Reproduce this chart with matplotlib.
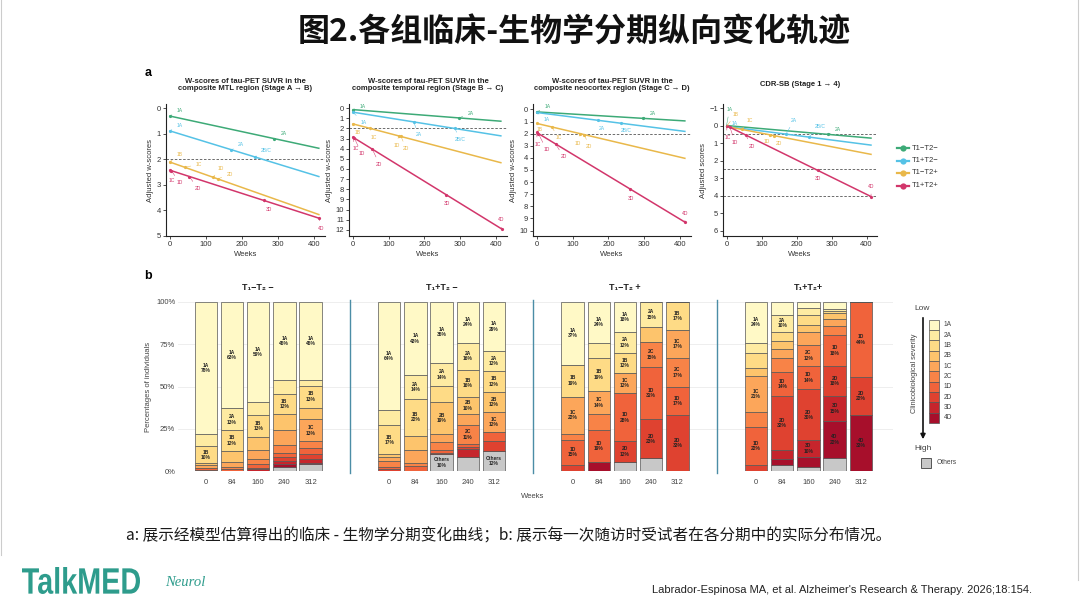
import matplotlib
matplotlib.use('Agg')
import matplotlib.pyplot as plt
from matplotlib.patches import Rectangle, PathPatch
from matplotlib.textpath import TextPath
from matplotlib.font_manager import FontProperties
from matplotlib.transforms import Affine2D
import numpy as np

plt.rcParams['font.family'] = ['Liberation Sans', 'Noto Sans CJK SC', 'DejaVu Sans']

W, H = 1080, 603

# ---------------- data: panel a ----------------
group_names = ['T1−T2−', 'T1+T2−', 'T1−T2+', 'T1+T2+']
group_titles = ['T₁−T₂ −', 'T₁+T₂ −', 'T₁−T₂ +', 'T₁+T₂+']
group_colors = ['#3DAA77', '#55C2E6', '#E9B84A', '#D2366B']

line_weeks = [0, 415]

mtl_start = [0.30, 0.88, 2.10, 2.42]
mtl_end = [1.57, 2.68, 4.17, 4.31]
temporal_start = [0.15, 0.40, 1.55, 2.85]
temporal_end = [1.30, 2.75, 5.40, 11.9]
neocortex_start = [0.20, 0.25, 1.15, 1.90]
neocortex_end = [0.95, 1.82, 4.05, 9.34]
cdr_start = [0.00, 0.05, 0.05, 0.00]
cdr_end = [0.72, 1.12, 1.65, 4.07]

# (group index, week, adjusted score, stage)
mtl_points = [
    (0, 0, 0.30, '1A'), (0, 290, 1.20, '2A'),
    (1, 0, 0.88, '1A'), (1, 170, 1.63, '2A'), (1, 235, 1.90, '2B/C'),
    (2, 0, 2.10, '1B'), (2, 42, 2.31, '1C'), (2, 120, 2.70, '1D'), (2, 133, 2.76, '2D'),
    (3, 0, 2.42, '1C'), (3, 5, 2.44, '1D'), (3, 55, 2.67, '2D'), (3, 260, 3.60, '3D'), (3, 413, 4.30, '4D'),
]
temporal_points = [
    (0, 0, 0.15, '1A'), (0, 295, 0.97, '2A'),
    (1, 0, 0.40, '1A'), (1, 170, 1.36, '2A'), (1, 285, 2.01, '2B/C'),
    (2, 0, 1.55, '1B'), (2, 48, 2.00, '1C'), (2, 128, 2.74, '1D'), (2, 135, 2.80, '2D'),
    (3, 0, 2.85, '1C'), (3, 5, 2.96, '1D'), (3, 55, 4.05, '2D'), (3, 260, 8.52, '3D'), (3, 415, 11.9, '4D'),
]
neocortex_points = [
    (0, 0, 0.20, '1A'), (0, 295, 0.73, '2A'),
    (1, 0, 0.25, '1A'), (1, 170, 0.89, '2A'), (1, 235, 1.14, '2B/C'),
    (2, 0, 1.15, '1B'), (2, 42, 1.44, '1C'), (2, 120, 1.99, '1D'), (2, 133, 2.08, '2D'),
    (3, 0, 1.90, '1C'), (3, 5, 1.99, '1D'), (3, 53, 2.85, '2D'), (3, 260, 6.53, '3D'), (3, 413, 9.30, '4D'),
]
cdr_points = [
    (0, 0, 0.00, '1A'), (0, 290, 0.50, '2A'),
    (1, 0, 0.05, '1A'), (1, 170, 0.49, '2A'), (1, 235, 0.66, '2B/C'),
    (2, 0, 0.05, '1B'), (2, 44, 0.22, '1C'), (2, 125, 0.53, '1D'), (2, 135, 0.57, '2D'),
    (3, 0, 0.00, '1C'), (3, 10, 0.10, '1D'), (3, 55, 0.54, '2D'), (3, 260, 2.55, '3D'), (3, 413, 4.05, '4D'),
]

mtl_ticks = [0, 1, 2, 3, 4, 5]
temporal_ticks = list(range(0, 13))
neocortex_ticks = list(range(0, 11))
cdr_ticks = [-1, 0, 1, 2, 3, 4, 5, 6]
week_ticks = [0, 100, 200, 300, 400]

mtl_cutoffs = [2]
temporal_cutoffs = [2]
neocortex_cutoffs = [2]
cdr_cutoffs = [0.5, 2.5, 4.0]

panel_titles = [
    'W-scores of tau-PET SUVR in the\ncomposite MTL region (Stage A → B)',
    'W-scores of tau-PET SUVR in the\ncomposite temporal region (Stage B → C)',
    'W-scores of tau-PET SUVR in the\ncomposite neocortex region (Stage C → D)',
    'CDR-SB (Stage 1 → 4)',
]
panel_ylabels = ['Adjusted w-scores', 'Adjusted w-scores', 'Adjusted w-scores', 'Adjusted scores']

# ---------------- data: panel b ----------------
stages = ['1A', '2A', '1B', '2B', '1C', '2C', '1D', '2D', '3D', '4D', 'Others']
stage_colors = ['#FFF9C6', '#FEEBA2', '#FEDB86', '#FDC46C', '#FCA65A', '#F88347',
                '#F0633B', '#DF4230', '#C6252C', '#A70F2B', '#C8C8C8']
visit_labels = ['0', '84', '160', '240', '312']

# rows follow `stages`, columns follow `visit_labels` (percent of individuals)
pct_t1n_t2n = [
    [78, 63, 59, 46, 46],
    [7.5, 13, 8, 8.5, 3.5],
    [10, 12, 13, 12, 13],
    [1, 6.5, 7.5, 9.3, 7],
    [1.5, 3, 5.5, 8.9, 13],
    [0.5, 1.5, 3, 4.5, 4],
    [1, 1, 2, 2.4, 3.5],
    [0.5, 0, 1, 2.5, 2.8],
    [0, 0, 1, 2, 2.2],
    [0, 0, 0, 1.4, 1],
    [0, 0, 0, 2.6, 4],
]
pct_t1p_t2n = [
    [64, 43, 36, 24, 29],
    [9, 14, 14, 16, 12],
    [17, 22, 9.2, 16, 12],
    [1.8, 8.3, 19, 10.5, 12],
    [2.2, 8, 5, 6.5, 12],
    [3.4, 1.5, 4.5, 11, 0],
    [1.4, 3, 1.5, 1.6, 5.5],
    [1.2, 0, 1, 1.4, 5.5],
    [0, 0, 0, 4.5, 0],
    [0, 0, 0, 0, 0],
    [0, 0, 9.9, 8.5, 12],
]
pct_t1n_t2p = [
    [37, 24, 18, 0, 0],
    [0, 9.4, 12, 15, 0],
    [19, 19, 12, 0, 16.6],
    [0, 0, 0, 8.5, 0],
    [22, 14, 12, 0, 16.6],
    [3.6, 9.4, 0, 15, 16.8],
    [14.6, 19, 28.5, 31, 17],
    [3.8, 0, 12, 23, 33],
    [0, 0, 0, 0, 0],
    [0, 5.2, 0, 0, 0],
    [0, 0, 5.5, 7.5, 0],
]
pct_t1p_t2p = [
    [24, 7.5, 3.6, 4.5, 0],
    [5.9, 10, 4, 1, 0],
    [9.4, 5.3, 5.9, 1.4, 0],
    [4.5, 4.9, 4.3, 3, 0],
    [21, 5.5, 7.9, 4.5, 0],
    [9.4, 8.3, 12, 5.3, 0],
    [22, 14, 14, 18, 44.5],
    [3.8, 32, 30, 18, 22.5],
    [0, 5.5, 10, 15, 0],
    [0, 3.4, 6, 21.5, 33],
    [0, 3.6, 2.3, 7.9, 0],
]
group_pcts = [pct_t1n_t2n, pct_t1p_t2n, pct_t1n_t2p, pct_t1p_t2p]

# ---------------- layout helpers ----------------
def fx(x):
    return x / W

def fy(y):
    return 1 - y / H

def axes_px(l, t, r, b):
    return [fx(l), fy(b), (r - l) / W, (b - t) / H]

fig = plt.figure(figsize=(W / 100, H / 100), dpi=100)
fig.patch.set_facecolor('white')

# ---------------- title ----------------
fig.text(fx(574), fy(33), '图2.各组临床-生物学分期纵向变化轨迹', ha='center', va='center',
         fontsize=23, fontweight='bold', family=['Noto Sans CJK SC', 'DejaVu Sans'], color='#111111')

# ---------------- panel a ----------------
fig.text(fx(148), fy(73), 'a', fontsize=9, fontweight='bold', ha='center', va='center')

a_boxes = [(166, 104, 325, 236), (349, 104, 507, 236), (533, 104, 691, 236), (723, 104, 877, 236)]
a_ylims = [(5.0, -0.17), (12.6, -0.4), (10.45, -0.45), (6.3, -1.23)]
a_starts = [mtl_start, temporal_start, neocortex_start, cdr_start]
a_ends = [mtl_end, temporal_end, neocortex_end, cdr_end]
a_points = [mtl_points, temporal_points, neocortex_points, cdr_points]
a_yticks = [mtl_ticks, temporal_ticks, neocortex_ticks, cdr_ticks]
a_cutoffs = [mtl_cutoffs, temporal_cutoffs, neocortex_cutoffs, cdr_cutoffs]
a_offsets = [
    [(10, 5), (9, 5), (10, 5), (10, 5), (12, 6), (10, 7), (14, 3), (8, 9), (12, 4),
     (2, -10), (8, -12), (8, -12), (5, -9), (2, -10)],
    [(10, 3), (12, 4), (11, -10), (5, -13), (5, -11), (5, -9), (4, -9), (-2, -10), (5, -12),
     (3, -12), (7, -15), (7, -15), (1, -9), (0, 9)],
    [(11, 5), (10, 5), (10, -7), (4, -8), (5, -7), (3, -6), (7, -11), (-2, -10), (5, -12),
     (1, -12), (8, -16), (8, -13), (1, -10), (0, 9)],
    [(3, 16), (10, 5), (8, 3), (8, 14), (11, 11), (9, 12), (8, 9), (-3, -7), (5, -8),
     (1, -12), (5, -15), (6, -11), (0, -8), (0, 10)],
]
title_y = [85, 85, 85, 84]

for k in range(4):
    l, t, r, b = a_boxes[k]
    ax = fig.add_axes(axes_px(l, t, r, b))
    ax.set_xlim(-10, 430)
    ax.set_ylim(*a_ylims[k])
    for c in a_cutoffs[k]:
        ax.axhline(c, color='#555555', lw=0.6, ls=(0, (3, 2)), zorder=1)
    for g in range(4):
        ax.plot(line_weeks, [a_starts[k][g], a_ends[k][g]], color=group_colors[g], lw=1.1,
                solid_capstyle='butt', zorder=2)
    for (g, wk, val, st), off in zip(a_points[k], a_offsets[k]):
        ax.plot(wk, val, 'o', ms=2.3, color=group_colors[g], mec='none', zorder=3)
        ax.annotate(st, xy=(wk, val), xytext=off, textcoords='offset pixels', fontsize=3.6,
                    color=group_colors[g], ha='center', va='center', zorder=4,
                    arrowprops=dict(arrowstyle='-', lw=0.35, color=group_colors[g],
                                    shrinkA=1.5, shrinkB=0))
    ax.set_xticks(week_ticks)
    ax.set_yticks(a_yticks[k])
    ax.tick_params(labelsize=5.5, length=2, width=0.6, pad=1.5, colors='#333333')
    for s in ['top', 'right']:
        ax.spines[s].set_visible(False)
    for s in ['left', 'bottom']:
        ax.spines[s].set_linewidth(0.8)
        ax.spines[s].set_color('#222222')
    ax.set_xlabel('Weeks', fontsize=5.5, labelpad=2, color='#333333')
    ax.set_ylabel(panel_ylabels[k], fontsize=5.5, labelpad=2, color='#333333')
    ax.patch.set_alpha(0)
    fig.text(fx((l + r) / 2), fy(title_y[k]), panel_titles[k], ha='center', va='center',
             fontsize=5.5, fontweight='bold', color='#222222', linespacing=1.15)

# overlay in pixel coordinates for legends / decorations
ov = fig.add_axes([0, 0, 1, 1])
ov.set_xlim(0, W)
ov.set_ylim(H, 0)
ov.axis('off')
ov.patch.set_alpha(0)
leg_y = [148, 160.5, 173, 185.5]
for g in range(4):
    ov.plot([897, 909], [leg_y[g], leg_y[g]], color=group_colors[g], lw=1.6)
    ov.plot([903], [leg_y[g]], 'o', ms=4.5, color=group_colors[g], mec='none')
    ov.text(912, leg_y[g], group_names[g], fontsize=5.5, va='center', ha='left', color='#333333')

# ---------------- panel b ----------------
fig.text(fx(148), fy(276), 'b', fontsize=9, fontweight='bold', ha='center', va='center')

axb = fig.add_axes(axes_px(178, 302, 893, 471))
axb.set_xlim(-1.06, 26.23)
axb.set_ylim(0, 100)
axb.patch.set_alpha(0)
for s in axb.spines.values():
    s.set_visible(False)
axb.set_yticks([0, 25, 50, 75, 100])
axb.set_yticklabels(['0%', '25%', '50%', '75%', '100%'])
axb.yaxis.grid(True, color='#ebebeb', lw=0.6)
axb.set_axisbelow(True)

xpos_all = []
xlab_all = []
for g in range(4):
    xs = 7 * g + np.arange(len(visit_labels))
    xpos_all.extend(xs)
    xlab_all.extend(visit_labels)
    data = group_pcts[g]
    bottoms = np.zeros(len(visit_labels))
    for si in reversed(range(len(stages))):
        vals = np.array(data[si], dtype=float)
        axb.bar(xs, vals, bottom=bottoms, width=0.86, color=stage_colors[si],
                edgecolor='#555555', linewidth=0.5, zorder=2)
        for x, v, b0 in zip(xs, vals, bottoms):
            if v >= 9.5:
                axb.text(x, b0 + v / 2, f'{stages[si]}\n{int(round(v))}%', ha='center',
                         va='center', fontsize=3.5, fontweight='bold', color='#222222',
                         linespacing=1.1, zorder=3)
        bottoms += vals
    axb.text(7 * g + 2, 106, group_titles[g], ha='center', va='bottom', fontsize=6.5,
             fontweight='bold', color='#222222', family=['Liberation Sans', 'DejaVu Sans'])

for sx in [5.5, 12.5, 19.5]:
    axb.axvline(sx, ymin=-0.01, ymax=1.01, color='#4B8DA6', lw=1.0, clip_on=False, zorder=1)

axb.set_xticks(xpos_all)
axb.set_xticklabels(xlab_all)
axb.tick_params(axis='x', length=0, labelsize=5.5, pad=6, colors='#444444')
axb.tick_params(axis='y', length=0, labelsize=5.5, pad=2, colors='#444444')
axb.set_ylabel('Percentages of individuals', fontsize=5.5, labelpad=3, color='#444444')
fig.text(fx(533), fy(497), 'Weeks', fontsize=5.5, ha='center', va='center', color='#444444')

# legend for panel b
ov.text(922, 309, 'Low', fontsize=6, ha='center', va='center', color='#444444')
ov.annotate('', xy=(923, 442), xytext=(923, 315),
            arrowprops=dict(arrowstyle='-|>', lw=1.2, color='#111111', mutation_scale=7))
ov.text(923, 448, 'High', fontsize=6, ha='center', va='center', color='#444444')
ov.text(914.5, 373, 'Clinicobiological severity', fontsize=5.3, rotation=90, ha='center',
        va='center', color='#444444')
box_top = 319.5
box_h = 10.35
for i in range(10):
    ov.add_patch(Rectangle((929, box_top + i * box_h), 9.5, box_h, facecolor=stage_colors[i],
                           edgecolor='#555555', lw=0.5))
    ov.text(944, box_top + (i + 0.5) * box_h, stages[i], fontsize=4.8, va='center', ha='left',
            color='#444444')
ov.add_patch(Rectangle((921, 458), 10, 10, facecolor=stage_colors[10], edgecolor='#555555', lw=0.7))
ov.text(937, 463, 'Others', fontsize=4.8, va='center', ha='left', color='#444444')

# ---------------- footer ----------------
ov.plot([1, 1], [0, 555], color='#cccccc', lw=0.8)
ov.plot([1078, 1078], [0, 580], color='#cccccc', lw=0.8)
fig.text(fx(509), fy(536),
         'a: 展示经模型估算得出的临床 - 生物学分期变化曲线；b: 展示每一次随访时受试者在各分期中的实际分布情况。',
         ha='center', va='center', fontsize=11.25, color='#1a1a1a',
         family=['Noto Sans CJK SC', 'DejaVu Sans'])

# condensed logo text drawn as a scaled text path
logo_fp = FontProperties(family=['Liberation Sans', 'DejaVu Sans'], weight='bold')
logo_path = TextPath((0, 0), 'TalkMED', size=1, prop=logo_fp)
lb = logo_path.get_extents()
logo_tr = (Affine2D().translate(-lb.x0, -lb.y0)
           .scale(118 / lb.width, -27 / lb.height).translate(22, 594))
ov.add_patch(PathPatch(logo_tr.transform_path(logo_path), facecolor='#2E9C8C', edgecolor='none'))

fig.text(fx(165), fy(583), 'Neurol', ha='left', va='center', fontsize=10.5, style='italic',
         color='#2E9C8C', family=['Liberation Serif', 'DejaVu Serif'])
fig.text(fx(1032), fy(590),
         "Labrador-Espinosa MA, et al. Alzheimer's Research & Therapy. 2026;18:154.",
         ha='right', va='center', fontsize=8, color='#222222')

fig.savefig('out.png', dpi=100, facecolor='white')
